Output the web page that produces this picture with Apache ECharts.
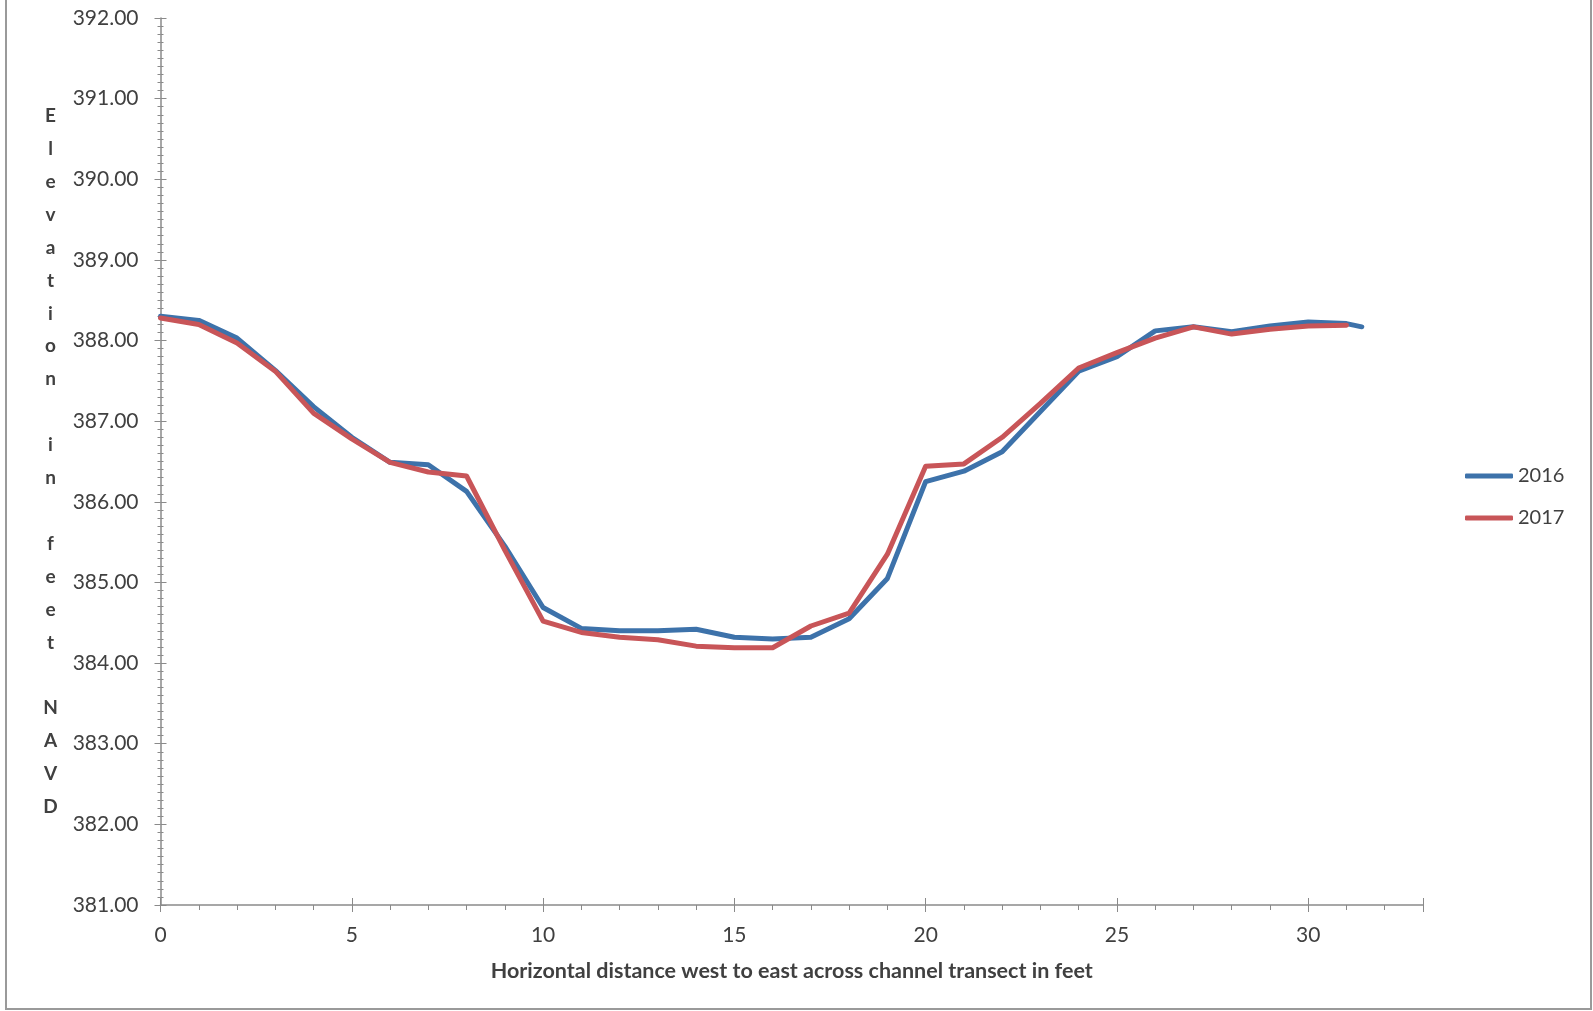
<!DOCTYPE html>
<html>
<head>
<meta charset="utf-8">
<script src="https://cdn.jsdelivr.net/npm/echarts@6/dist/echarts.min.js"></script>
<style>
html,body{margin:0;padding:0;background:#fff;}
#chart{width:1593px;height:1011px;}
</style>
</head>
<body>
<div id="chart"></div>
<script>
// Data
const seriesNames = ['2016', '2017'];
const x2016 = [0,1,2,3,4,5,6,7,8,9,10,11,12,13,14,15,16,17,18,19,20,21,22,23,24,25,26,27,28,29,30,31,31.4];
const y2016 = [388.30,388.25,388.03,387.63,387.18,386.80,386.49,386.46,386.13,385.45,384.69,384.43,384.40,384.40,384.42,384.32,384.30,384.32,384.55,385.05,386.25,386.38,386.62,387.12,387.62,387.80,388.12,388.17,388.11,388.18,388.23,388.21,388.17];
const x2017 = [0,1,2,3,4,5,6,7,8,9,10,11,12,13,14,15,16,17,18,19,20,21,22,23,24,25,26,27,28,29,30,31];
const y2017 = [388.28,388.20,387.97,387.62,387.10,386.78,386.49,386.37,386.32,385.40,384.52,384.38,384.32,384.29,384.21,384.19,384.19,384.46,384.62,385.35,386.44,386.47,386.80,387.22,387.66,387.85,388.03,388.17,388.08,388.14,388.18,388.19];
const xTitle = 'Horizontal distance west to east across channel transect in feet';
const yTitle = 'Elevation in feet NAVD';

const FONT = 'Lato';
const axisColor = '#8a8a8a';
const textColor = '#404040';

const pairs = (xs, ys) => xs.map((x, i) => [x, ys[i]]);

const chart = echarts.init(document.getElementById('chart'), null, {renderer: 'canvas'});
const yCommon = {
  type: 'value', min: 381, max: 392, interval: 1, position: 'left',
  splitLine: {show: false}
};
const option = {
  backgroundColor: '#ffffff',
  animation: false,
  textStyle: {fontFamily: FONT},
  graphic: [{
    type: 'rect', silent: true,
    shape: {x: 6, y: -4, width: 1585, height: 1013},
    style: {fill: 'none', stroke: '#9a9a9a', lineWidth: 2}
  }],
  grid: {left: 160.5, right: 170, top: 18, bottom: 106, containLabel: false},
  legend: {
    orient: 'vertical', left: 1460, top: 459,
    icon: 'roundRect', itemWidth: 48, itemHeight: 5, itemGap: 18,
    textStyle: {fontFamily: FONT, fontSize: 20, color: textColor, lineHeight: 24},
    data: seriesNames
  },
  xAxis: [{
    type: 'value', min: 0, max: 33, interval: 5, position: 'bottom',
    name: xTitle, nameLocation: 'middle', nameGap: 66,
    nameTextStyle: {fontFamily: FONT, fontSize: 21.5, fontWeight: 'bold', color: textColor, verticalAlign: 'middle'},
    axisLine: {show: true, onZero: false, lineStyle: {color: axisColor, width: 1.5}},
    axisTick: {show: true, length: 7, lineStyle: {color: axisColor}},
    minorTick: {show: true, splitNumber: 5, length: 5, lineStyle: {color: axisColor}},
    axisLabel: {fontFamily: FONT, fontSize: 21, color: textColor, margin: 20, showMaxLabel: false},
    splitLine: {show: false}
  }, {
    type: 'value', min: 0, max: 33, interval: 5, position: 'bottom',
    axisLine: {show: false, onZero: false},
    axisTick: {show: true, inside: true, length: 7, lineStyle: {color: axisColor}},
    axisLabel: {show: false},
    splitLine: {show: false}
  }],
  yAxis: [Object.assign({}, yCommon, {
    name: yTitle.split('').join('\n'), nameLocation: 'middle', nameGap: 110, nameRotate: 0,
    nameTextStyle: {fontFamily: FONT, fontSize: 19, fontWeight: 'bold', color: textColor, lineHeight: 32.9, align: 'center', verticalAlign: 'middle', padding: [18, 0, 0, 0]},
    axisLine: {show: true, onZero: false, lineStyle: {color: axisColor, width: 1.5}},
    axisTick: {show: true, length: 6, lineStyle: {color: axisColor}},
    minorTick: {show: true, splitNumber: 10, length: 3, lineStyle: {color: axisColor}},
    axisLabel: {fontFamily: FONT, fontSize: 21, color: textColor, margin: 22, formatter: v => v.toFixed(2)}
  }), Object.assign({}, yCommon, {
    axisLine: {show: false, onZero: false},
    axisTick: {show: true, inside: true, length: 6, lineStyle: {color: axisColor}},
    minorTick: {show: true, splitNumber: 10, length: 3, lineStyle: {color: axisColor}},
    axisLabel: {show: false}
  })],
  series: [{
    name: seriesNames[0], type: 'line', xAxisIndex: 0, yAxisIndex: 0,
    data: pairs(x2016, y2016), symbol: 'none', smooth: false,
    lineStyle: {color: '#3d72aa', width: 5, join: 'round', cap: 'round'},
    itemStyle: {color: '#3d72aa'}
  }, {
    name: seriesNames[1], type: 'line', xAxisIndex: 0, yAxisIndex: 0,
    data: pairs(x2017, y2017), symbol: 'none', smooth: false,
    lineStyle: {color: '#c85558', width: 5, join: 'round', cap: 'round'},
    itemStyle: {color: '#c85558'}
  }]
};
chart.setOption(option);
</script>
</body>
</html>
